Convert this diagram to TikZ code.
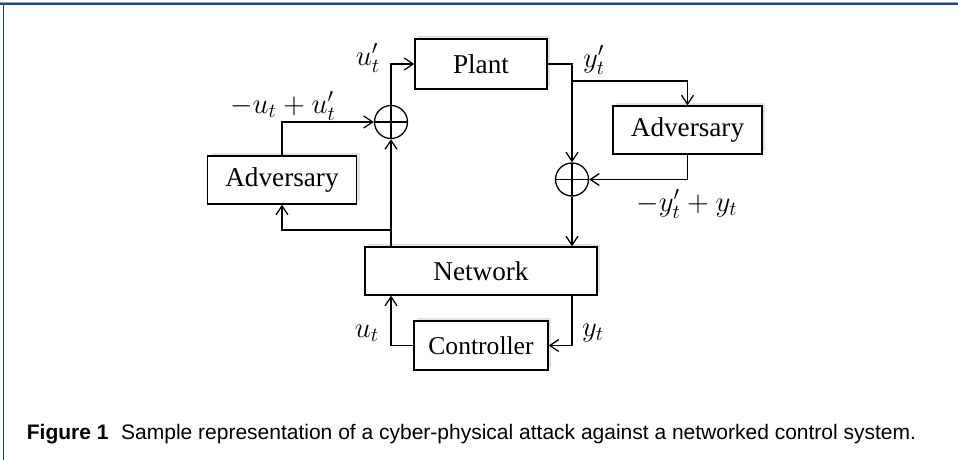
\documentclass[tikz,border=0pt]{standalone}
\usepackage{fontspec}
\setmainfont{Liberation Serif}
\newfontfamily\capfont{Liberation Sans}
\usetikzlibrary{shadows,arrows.meta}
\definecolor{framebl}{RGB}{31,73,125}
\begin{document}
\begin{tikzpicture}[x=0.5pt,y=-0.5pt,
  blk/.style={draw,line width=0.65pt,fill=white,inner sep=0pt,
    font=\fontsize{13.6}{16}\selectfont,
    drop shadow={shadow xshift=1.7pt,shadow yshift=1.7pt,fill=black!11,opacity=1}},
  sumnode/.style={draw,circle,line width=0.65pt,minimum size=16.5pt,inner sep=0pt,
    path picture={\draw[line width=0.65pt] (path picture bounding box.west) -- (path picture bounding box.east)
      (path picture bounding box.north) -- (path picture bounding box.south);}},
  conn/.style={line width=0.65pt},
  arr/.style={conn,-{Straight Barb[length=4.5pt,width=6pt,line width=0.65pt]}},
  lbl/.style={font=\fontsize{13.6}{16}\selectfont},
]
\useasboundingbox (0,0) rectangle (958,460);
% frame
\draw[framebl,line width=1pt] (0,4) -- (958,4);
\draw[framebl!50,line width=0.5pt] (0,2.5) -- (958,2.5);
\draw[framebl,line width=0.8pt] (3.5,4) -- (3.5,460);

% blocks
\node[blk,minimum width=66pt,minimum height=25pt] (plant) at (481,64) {Plant};
\node[blk,minimum width=74.5pt,minimum height=24pt] (advR) at (687.5,130) {Adversary};
\node[blk,minimum width=74.5pt,minimum height=24pt] (advL) at (282,180) {Adversary};
\node[blk,minimum width=116pt,minimum height=24pt] (net) at (481,271) {Network};
\node[blk,minimum width=67pt,minimum height=24.5pt,font=\fontsize{12.8}{15}\selectfont] (ctrl) at (481,345.5) {Controller};
\node[sumnode] (sumL) at (391,122) {};
\node[sumnode] (sumR) at (572,179.5) {};

% junction coordinates
\coordinate (brR) at (572,81);
\coordinate (brL) at (391,230);

% connectors
\draw[arr] (sumL.north) |- (plant.west);
\draw[arr] (plant.east) -| (sumR.north);
\draw[arr] (brR) -| (advR.north);
\draw[arr] (advR.south) |- (sumR.east);
\draw[arr] (sumR.south) -- (sumR.south |- net.north);
\draw[arr] (sumL.south |- net.north) -- (sumL.south);
\draw[arr] (brL) -| (advL.south);
\draw[arr] (advL.north) |- (sumL.west);
\draw[arr] (ctrl.west) -| (sumL.south |- net.south);
\draw[arr] (sumR.south |- net.south) |- (ctrl.east);

% labels
\node[lbl] (lup) at (368,58) {$u_t'$};
\node[lbl] (lum) at (283,106) {$-u_t+u_t'$};
\node[lbl] (lyp) at (594,60) {$y_t'$};
\node[lbl] (lym) at (687,204) {$-y_t'+y_t$};
\node[lbl] (lu) at (367,333) {$u_t$};
\node[lbl] (ly) at (593,333) {$y_t$};

% caption
\node[anchor=base west,inner sep=0pt,font=\capfont\fontsize{10.5}{12}\selectfont] (cap) at (26.5,439)
  {\textbf{Figure 1}\hspace{0.6em}Sample representation of a cyber-physical attack against a networked control system.};
\end{tikzpicture}
\end{document}
